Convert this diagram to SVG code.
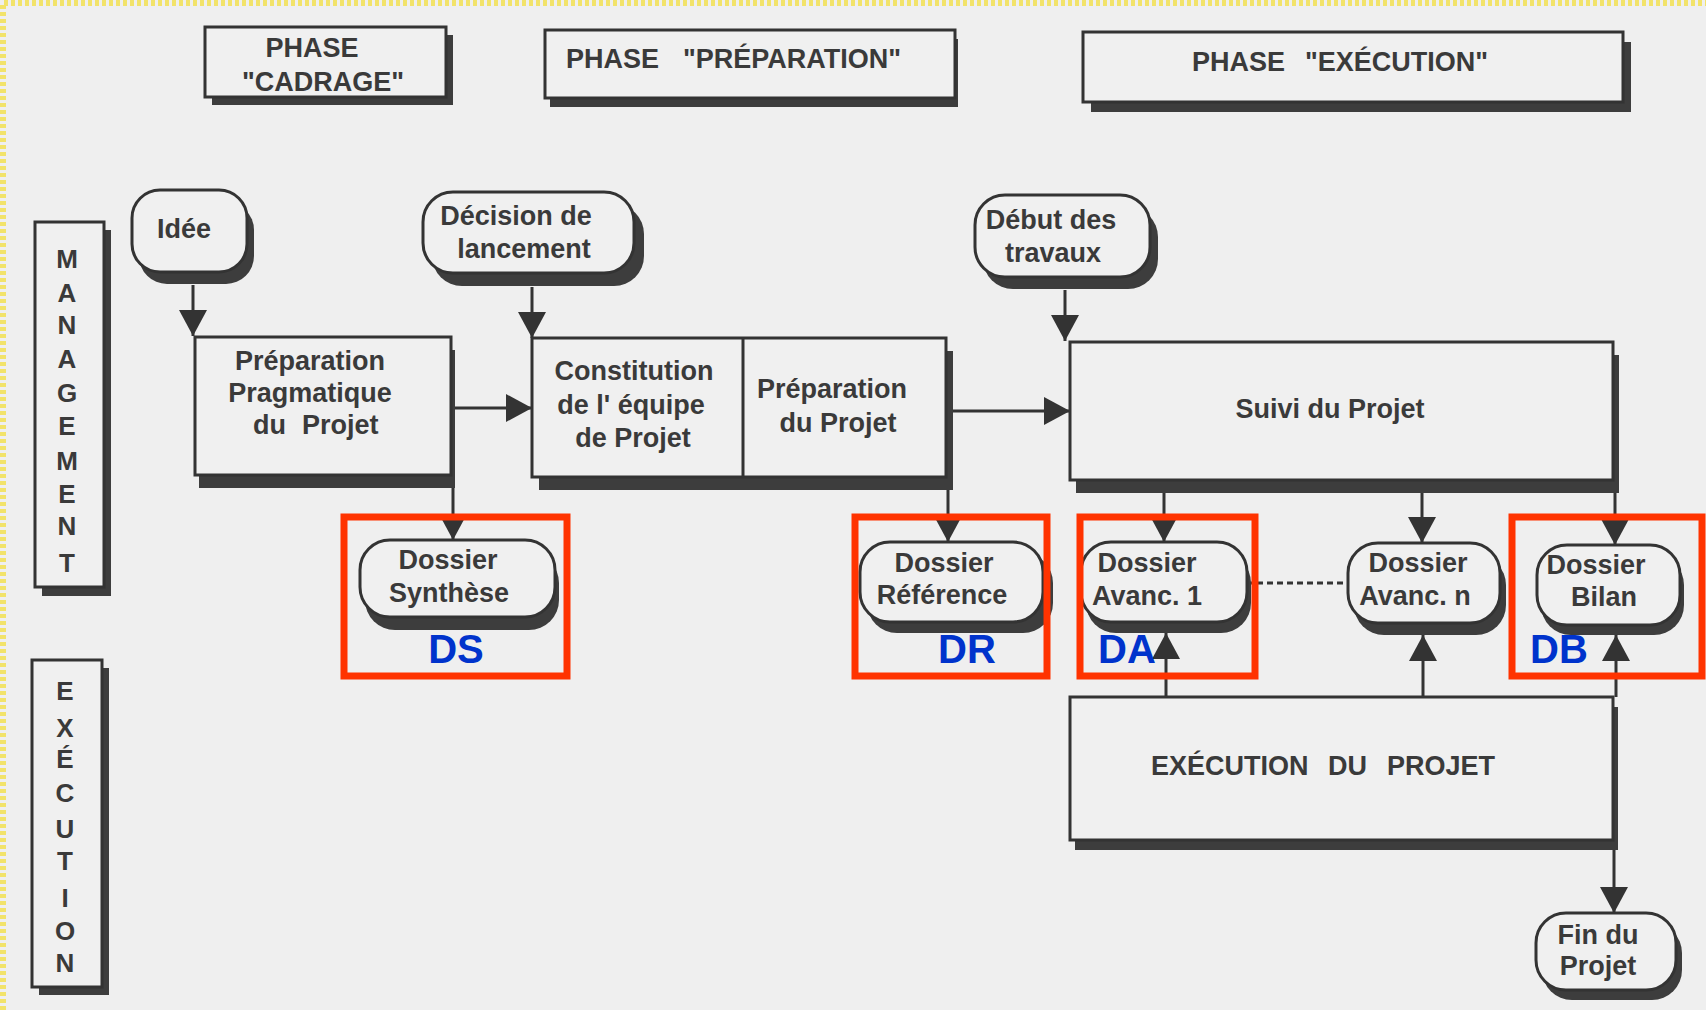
<svg xmlns="http://www.w3.org/2000/svg" width="1706" height="1010" viewBox="0 0 1706 1010">
<defs>
<style>
.bx{fill:#f0f0f0;stroke:#333;stroke-width:3}
.sh{fill:#3d3d3d}
.t{font-family:"Liberation Sans",Arial,sans-serif;font-weight:bold;font-size:27px;fill:#3a3a3a;text-anchor:middle}
.ts{font-family:"Liberation Sans",Arial,sans-serif;font-weight:bold;font-size:27px;fill:#3a3a3a}
.v{font-family:"Liberation Sans",Arial,sans-serif;font-weight:bold;font-size:26px;fill:#3a3a3a;text-anchor:middle}
.ln{fill:none;stroke:#333;stroke-width:3}
.red{fill:none;stroke:#ff3300;stroke-width:7}
.lab{font-family:"Liberation Sans",Arial,sans-serif;font-weight:bold;font-size:40px;fill:#0033cc;text-anchor:middle}
</style>
<marker id="ah" markerUnits="userSpaceOnUse" markerWidth="26" markerHeight="28" refX="26" refY="14" orient="auto">
<path d="M0,0 L26,14 L0,28 Z" fill="#333"/>
</marker>
</defs>
<rect x="0" y="0" width="1706" height="1010" fill="#efefef"/>
<path d="M3,1010 V3 H1706" fill="none" stroke="#f2e36a" stroke-width="6" stroke-dasharray="4 3"/>

<g id="phase-cadrage">
<rect class="sh" x="212" y="35" width="241" height="70"/>
<rect class="bx" x="205" y="27" width="241" height="70"/>
<text class="t" x="312" y="57">PHASE</text>
<text class="t" x="323" y="91">"CADRAGE"</text>
</g>
<g id="phase-preparation">
<rect class="sh" x="550" y="39" width="408" height="68"/>
<rect class="bx" x="545" y="30" width="410" height="68"/>
<text class="ts" y="68"><tspan x="566">PHASE</tspan><tspan x="683">"PRÉPARATION"</tspan></text>
</g>
<g id="phase-execution">
<rect class="sh" x="1091" y="42" width="540" height="70"/>
<rect class="bx" x="1083" y="32" width="540" height="70"/>
<text class="ts" y="71"><tspan x="1192">PHASE</tspan><tspan x="1305">"EXÉCUTION"</tspan></text>
</g>

<g id="lane-management">
<rect class="sh" x="42" y="230" width="69" height="366"/>
<rect class="bx" x="35" y="222" width="69" height="365"/>
<text class="v" x="67" y="268">M</text>
<text class="v" x="67" y="302">A</text>
<text class="v" x="67" y="334">N</text>
<text class="v" x="67" y="368">A</text>
<text class="v" x="67" y="402">G</text>
<text class="v" x="67" y="435">E</text>
<text class="v" x="67" y="470">M</text>
<text class="v" x="67" y="503">E</text>
<text class="v" x="67" y="535">N</text>
<text class="v" x="67" y="572">T</text>
</g>
<g id="lane-execution">
<rect class="sh" x="39" y="668" width="70" height="327"/>
<rect class="bx" x="32" y="660" width="70" height="327"/>
<text class="v" x="65" y="700">E</text>
<text class="v" x="65" y="737">X</text>
<text class="v" x="65" y="768">É</text>
<text class="v" x="65" y="802">C</text>
<text class="v" x="65" y="838">U</text>
<text class="v" x="65" y="870">T</text>
<text class="v" x="65" y="907">I</text>
<text class="v" x="65" y="940">O</text>
<text class="v" x="65" y="972">N</text>
</g>

<g id="connectors">
<line class="ln" x1="193" y1="285" x2="193" y2="336" marker-end="url(#ah)"/>
<line class="ln" x1="532" y1="287" x2="532" y2="338" marker-end="url(#ah)"/>
<line class="ln" x1="1065" y1="290" x2="1065" y2="341" marker-end="url(#ah)"/>
<line class="ln" x1="451" y1="408" x2="532" y2="408" marker-end="url(#ah)"/>
<line class="ln" x1="946" y1="411" x2="1070" y2="411" marker-end="url(#ah)"/>
<line class="ln" x1="453" y1="475" x2="453" y2="540" marker-end="url(#ah)"/>
<line class="ln" x1="948" y1="477" x2="948" y2="542" marker-end="url(#ah)"/>
<line class="ln" x1="1164" y1="490" x2="1164" y2="542" marker-end="url(#ah)"/>
<line class="ln" x1="1422" y1="490" x2="1422" y2="543" marker-end="url(#ah)"/>
<line class="ln" x1="1615" y1="480" x2="1615" y2="545" marker-end="url(#ah)"/>
<line class="ln" x1="1166" y1="697" x2="1166" y2="633" marker-end="url(#ah)"/>
<line class="ln" x1="1423" y1="697" x2="1423" y2="635" marker-end="url(#ah)"/>
<line class="ln" x1="1616" y1="697" x2="1616" y2="635" marker-end="url(#ah)"/>
<line class="ln" x1="1614" y1="840" x2="1614" y2="913" marker-end="url(#ah)"/>
<line class="ln" x1="1247" y1="583" x2="1348" y2="583" stroke-dasharray="6 4"/>
</g>

<g id="idee">
<rect class="sh" x="139" y="202" width="115" height="82" rx="28"/>
<rect class="bx" x="132" y="190" width="115" height="82" rx="28"/>
<text class="t" x="184" y="238">Idée</text>
</g>
<g id="decision">
<rect class="sh" x="432" y="204" width="212" height="82" rx="30"/>
<rect class="bx" x="423" y="192" width="211" height="81" rx="30"/>
<text class="t" x="516" y="225">Décision de</text>
<text class="t" x="524" y="258">lancement</text>
</g>
<g id="debut">
<rect class="sh" x="983" y="207" width="175" height="82" rx="30"/>
<rect class="bx" x="975" y="195" width="175" height="82" rx="30"/>
<text class="t" x="1051" y="229">Début des</text>
<text class="t" x="1053" y="262">travaux</text>
</g>

<g id="prep-pragmatique">
<rect class="sh" x="199" y="350" width="256" height="138"/>
<rect class="bx" x="195" y="337" width="256" height="138"/>
<text class="t" x="310" y="370">Préparation</text>
<text class="t" x="310" y="402">Pragmatique</text>
<text class="ts" y="434"><tspan x="253">du</tspan><tspan x="302">Projet</tspan></text>
</g>
<g id="constitution-preparation">
<rect class="sh" x="539" y="351" width="414" height="139"/>
<rect class="bx" x="532" y="338" width="414" height="139"/>
<line class="ln" x1="743" y1="338" x2="743" y2="477"/>
<text class="t" x="634" y="380">Constitution</text>
<text class="t" x="631" y="414">de l' équipe</text>
<text class="t" x="633" y="447">de Projet</text>
<text class="t" x="832" y="398">Préparation</text>
<text class="t" x="838" y="432">du Projet</text>
</g>
<g id="suivi">
<rect class="sh" x="1076" y="355" width="543" height="138"/>
<rect class="bx" x="1070" y="342" width="543" height="138"/>
<text class="t" x="1330" y="418">Suivi du Projet</text>
</g>
<g id="execution-projet">
<rect class="sh" x="1075" y="707" width="543" height="143"/>
<rect class="bx" x="1070" y="697" width="543" height="143"/>
<text class="ts" y="775"><tspan x="1151">EXÉCUTION</tspan><tspan x="1328">DU</tspan><tspan x="1387">PROJET</tspan></text>
</g>

<g id="dossier-synthese">
<rect class="sh" x="365" y="553" width="194" height="77" rx="30"/>
<rect class="bx" x="360" y="540" width="195" height="77" rx="30"/>
<text class="t" x="448" y="569">Dossier</text>
<text class="t" x="449" y="602">Synthèse</text>
</g>
<g id="dossier-reference">
<rect class="sh" x="867" y="553" width="186" height="80" rx="30"/>
<rect class="bx" x="860" y="542" width="183" height="80" rx="30"/>
<text class="t" x="944" y="572">Dossier</text>
<text class="t" x="942" y="604">Référence</text>
</g>
<g id="dossier-avanc-1">
<rect class="sh" x="1086" y="553" width="165" height="80" rx="30"/>
<rect class="bx" x="1081" y="542" width="166" height="80" rx="30"/>
<text class="t" x="1147" y="572">Dossier</text>
<text class="t" x="1147" y="605">Avanc. 1</text>
</g>
<g id="dossier-avanc-n">
<rect class="sh" x="1354" y="555" width="152" height="80" rx="30"/>
<rect class="bx" x="1348" y="543" width="152" height="80" rx="30"/>
<text class="t" x="1418" y="572">Dossier</text>
<text class="t" x="1415" y="605">Avanc. n</text>
</g>
<g id="dossier-bilan">
<rect class="sh" x="1541" y="555" width="143" height="80" rx="30"/>
<rect class="bx" x="1537" y="545" width="143" height="80" rx="30"/>
<text class="t" x="1596" y="574">Dossier</text>
<text class="t" x="1604" y="606">Bilan</text>
</g>
<g id="fin-projet">
<rect class="sh" x="1542" y="923" width="140" height="77" rx="30"/>
<rect class="bx" x="1536" y="913" width="140" height="77" rx="30"/>
<text class="t" x="1598" y="944">Fin du</text>
<text class="t" x="1598" y="975">Projet</text>
</g>

<g id="annotations">
<rect class="red" x="344" y="517" width="223" height="159"/>
<rect class="red" x="855" y="517" width="192" height="159"/>
<rect class="red" x="1080" y="517" width="175" height="159"/>
<rect class="red" x="1512" y="517" width="190" height="159"/>
<text class="lab" x="456" y="663">DS</text>
<text class="lab" x="967" y="663">DR</text>
<text class="lab" x="1127" y="663">DA</text>
<text class="lab" x="1559" y="663">DB</text>
</g>
</svg>
